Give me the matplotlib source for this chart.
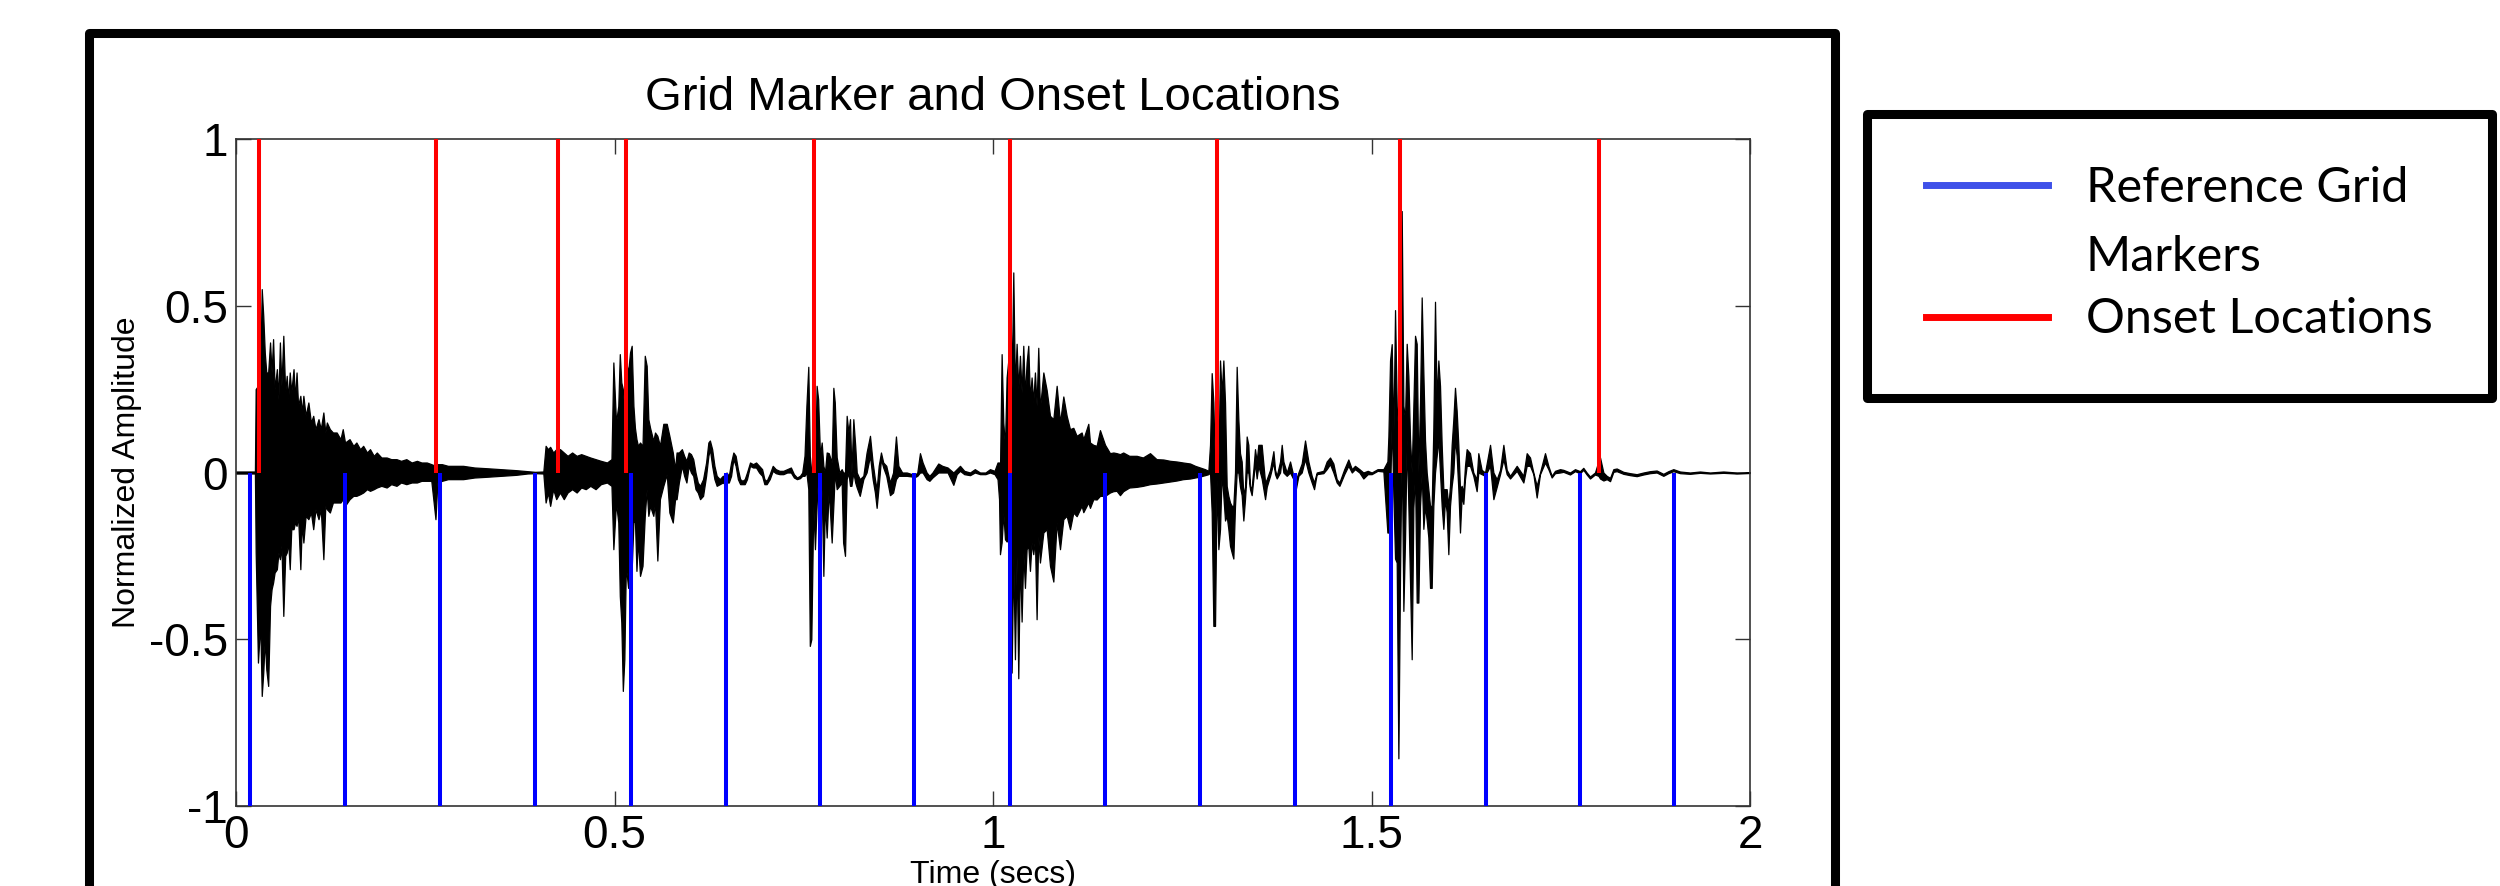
import matplotlib
matplotlib.use('Agg')
import matplotlib.pyplot as plt
from matplotlib.patches import Rectangle
from matplotlib.lines import Line2D

plt.rcParams['font.family'] = ['Liberation Sans', 'DejaVu Sans']

# reference grid markers and detected onsets (secs)
grid_markers = [0.019, 0.144, 0.270, 0.395, 0.522, 0.647, 0.772, 0.896,
                1.023, 1.148, 1.274, 1.399, 1.526, 1.651, 1.775, 1.900]
onset_times = [0.031, 0.264, 0.426, 0.515, 0.764, 1.023, 1.296, 1.538, 1.800]

wave_t = [
    0.000, 0.025, 0.026, 0.029, 0.032, 0.034, 0.036, 0.038, 0.040, 0.0425, 0.045, 0.047, 0.049, 0.051, 0.054, 0.056,
    0.058, 0.060, 0.0625, 0.065, 0.067, 0.069, 0.071, 0.073, 0.076, 0.078, 0.080, 0.082, 0.085, 0.087, 0.089, 0.092,
    0.0956, 0.099, 0.102, 0.105, 0.109, 0.112, 0.1154, 0.118, 0.120, 0.124, 0.128, 0.133, 0.138, 0.141, 0.144, 0.150,
    0.155, 0.159, 0.164, 0.168, 0.173, 0.177, 0.182, 0.186, 0.192, 0.199, 0.205, 0.212, 0.218, 0.225, 0.232, 0.239,
    0.245, 0.252, 0.258, 0.2635, 0.266, 0.272, 0.280, 0.290,
    0.300, 0.315, 0.330, 0.350, 0.370, 0.385, 0.395, 0.406, 0.409, 0.412, 0.415, 0.419, 0.423, 0.428, 0.433, 0.438,
    0.444, 0.450, 0.456, 0.462, 0.468, 0.475, 0.482, 0.490, 0.496, 0.4985, 0.502, 0.505, 0.507, 0.509, 0.511, 0.513,
    0.515, 0.518, 0.5205, 0.5227, 0.525, 0.527, 0.529, 0.531, 0.5337, 0.537, 0.540, 0.5425, 0.5447, 0.547, 0.5513,
    0.5535, 0.5566, 0.560, 0.5645, 0.569, 0.5725,
    0.577, 0.580, 0.582, 0.585, 0.589, 0.592, 0.595, 0.598, 0.601, 0.604, 0.607, 0.610, 0.613, 0.617, 0.621, 0.624,
    0.626, 0.629, 0.632, 0.635, 0.639, 0.643, 0.646, 0.648, 0.651, 0.654, 0.657, 0.660, 0.663, 0.666, 0.669, 0.672,
    0.675, 0.679, 0.683, 0.687, 0.691, 0.695, 0.698, 0.701, 0.705, 0.709, 0.713, 0.718, 0.723, 0.728, 0.733, 0.737,
    0.741, 0.745, 0.748, 0.751, 0.7535, 0.756, 0.758, 0.760, 0.7626, 0.7648, 0.767, 0.769, 0.7715, 0.7737, 0.7759,
    0.778, 0.7803, 0.783, 0.7869, 0.7891, 0.791, 0.7935, 0.797, 0.8001, 0.802, 0.8045, 0.8067, 0.809, 0.8111, 0.813,
    0.8155, 0.818, 0.820, 0.824, 0.8287, 0.833, 0.8375, 0.841, 0.844, 0.8463, 0.849, 0.852, 0.855, 0.859,
    0.8639, 0.868, 0.8718, 0.875, 0.880, 0.886, 0.893, 0.8956, 0.900, 0.9035, 0.907, 0.9123, 0.916, 0.920, 0.9277,
    0.933, 0.940, 0.9476, 0.952, 0.9564, 0.962, 0.9696, 0.976, 0.9828, 0.990, 0.996, 1.002, 1.006, 1.008, 1.0092,
    1.0114, 1.0136, 1.0158, 1.018, 1.0202, 1.0224, 1.0246, 1.0268, 1.029, 1.0312, 1.0334, 1.0356, 1.0378, 1.040,
    1.0422, 1.0444, 1.0466, 1.0488, 1.051, 1.0532, 1.0554, 1.0576, 1.0598, 1.062, 1.0665, 1.0709, 1.0753, 1.0797,
    1.0841, 1.0885, 1.0929, 1.0973, 1.1017, 1.1061, 1.1105, 1.1171, 1.1193, 1.1259, 1.1281, 1.1325, 1.1369, 1.1413,
    1.148, 1.1545, 1.159, 1.1633, 1.1677,
    1.172, 1.180, 1.1898, 1.198, 1.2074, 1.216, 1.225, 1.234, 1.2427, 1.251, 1.2603, 1.267, 1.2735, 1.280, 1.2845,
    1.2867, 1.2889, 1.2911, 1.2933, 1.2955, 1.2977, 1.2999, 1.3021, 1.3043, 1.3065, 1.3087, 1.3109, 1.3131, 1.3153,
    1.3175, 1.3197, 1.3219, 1.3241, 1.3263, 1.3285, 1.3307, 1.3329, 1.3351, 1.3373, 1.3395, 1.3417, 1.3439, 1.3461,
    1.3483, 1.3505, 1.3549, 1.3594, 1.3616, 1.366, 1.3704, 1.3726, 1.3748, 1.3792, 1.3814, 1.3836, 1.388, 1.3924,
    1.3968, 1.399, 1.4034, 1.4078, 1.4122, 1.4166, 1.4210, 1.4241, 1.4276, 1.4364, 1.4408, 1.4452, 1.4496, 1.454,
    1.4576,
    1.464, 1.4694, 1.474, 1.4782, 1.484, 1.4892, 1.495, 1.5002, 1.508, 1.5157, 1.521, 1.5223, 1.5245, 1.5267, 1.5289,
    1.5311, 1.5333, 1.5355, 1.5377, 1.5399, 1.5421, 1.5443, 1.5465, 1.5487, 1.5509, 1.5531, 1.5553, 1.5575, 1.5597,
    1.5619, 1.5641, 1.5663, 1.5685, 1.5707, 1.5729, 1.5751, 1.5773, 1.5795, 1.5817, 1.5839, 1.5861, 1.5883, 1.5905,
    1.5927, 1.5949, 1.5971, 1.5993, 1.6015, 1.6037, 1.6059, 1.6081, 1.6103, 1.6125, 1.6147, 1.6169, 1.6191, 1.6213,
    1.6235, 1.6257, 1.6301, 1.6345, 1.6389, 1.6411, 1.6455, 1.65, 1.6566, 1.661, 1.6654, 1.6698, 1.6742, 1.6786,
    1.683, 1.6918, 1.7006, 1.705, 1.7094, 1.7138, 1.7182, 1.7226, 1.7292, 1.7336, 1.738, 1.7424, 1.749,
    1.7534, 1.7622, 1.7688, 1.7754, 1.7798, 1.7842, 1.7886, 1.7952, 1.7997, 1.8019, 1.8063, 1.8107, 1.8151, 1.8195,
    1.8239, 1.8327, 1.8415, 1.8503, 1.8591, 1.8679, 1.8767, 1.8855, 1.8921, 1.8987, 1.9075, 1.9207, 1.9339, 1.9472,
    1.9648, 1.9824, 2.0,
]
wave_hi = [
    0.003, 0.003, 0.25, 0.26, 0.30, 0.55, 0.47, 0.36, 0.30, 0.30, 0.39, 0.30, 0.40, 0.25, 0.31, 0.22,
    0.39, 0.26, 0.41, 0.24, 0.29, 0.22, 0.30, 0.24, 0.31, 0.22, 0.30, 0.20, 0.23, 0.18, 0.23, 0.17,
    0.21, 0.15, 0.17, 0.13, 0.16, 0.13, 0.18, 0.12, 0.15, 0.13, 0.12, 0.12, 0.10, 0.13, 0.09, 0.10,
    0.08, 0.09, 0.07, 0.08, 0.06, 0.07, 0.05, 0.06, 0.045, 0.045, 0.04, 0.04, 0.035, 0.04, 0.03, 0.035,
    0.03, 0.03, 0.025, 0.02, 0.025, 0.025, 0.02, 0.02,
    0.02, 0.015, 0.013, 0.01, 0.007, 0.004, 0.002, 0.003, 0.08, 0.07, 0.077, 0.06, 0.07, 0.07, 0.06, 0.05,
    0.06, 0.05, 0.055, 0.05, 0.045, 0.04, 0.035, 0.03, 0.04, 0.33, 0.15, 0.20, 0.355, 0.27, 0.25, 0.18,
    0.336, 0.30, 0.36, 0.38, 0.20, 0.134, 0.10, 0.08, 0.09, 0.08, 0.35, 0.32, 0.16, 0.134, 0.095,
    0.12, 0.11, 0.08, 0.146, 0.146, 0.11,
    0.06, 0.01, 0.06, 0.06, 0.07, 0.05, 0.035, 0.06, 0.055, 0.04, 0.0, -0.03, -0.04, -0.02, 0.03, 0.09,
    0.096, 0.07, 0.02, -0.01, -0.02, -0.01, -0.01, 0.0, -0.01, 0.03, 0.06, 0.05, 0.01, -0.02, -0.025, -0.02,
    0.0, 0.03, 0.025, 0.03, 0.02, 0.01, -0.02, -0.025, -0.005, 0.02, 0.01, 0.005, 0.005, 0.01, 0.015, -0.005,
    -0.015, -0.01, 0.0, 0.05, 0.20, 0.317, 0.05, 0.0, 0.02, 0.0, 0.26, 0.22, 0.05, 0.09, 0.02,
    0.0, 0.06, 0.058, 0.03, 0.254, 0.21, 0.046, 0.0, 0.01, 0.0, 0.0, 0.17, 0.12, 0.16, 0.0,
    0.16, 0.08, 0.0, -0.02, -0.01, 0.06, 0.11, 0.03, -0.02, -0.05, 0.02, 0.06, 0.03, 0.02,
    -0.03, 0.0, 0.108, 0.02, 0.0, 0.0, -0.005, -0.01, 0.0, 0.058, 0.03, 0.0, -0.01, 0.0, 0.027,
    0.02, 0.015, 0.0, 0.01, 0.02, 0.005, 0.0, 0.01, 0.0, 0.0, 0.01, 0.005, 0.03, 0.03, 0.0,
    0.355, 0.15, 0.08, 0.285, 0.336, 0.633, 0.25, 0.60, 0.25, 0.386, 0.25, 0.35, 0.24, 0.38,
    0.23, 0.33, 0.38, 0.22, 0.285, 0.21, 0.30, 0.2, 0.374, 0.19, 0.30, 0.247, 0.17, 0.16,
    0.26, 0.15, 0.228, 0.17, 0.13, 0.134, 0.11, 0.12, 0.10, 0.146, 0.09, 0.083, 0.08, 0.127,
    0.083, 0.058, 0.06, 0.058, 0.055,
    0.06, 0.05, 0.05, 0.045, 0.058, 0.04, 0.039, 0.035, 0.033, 0.03, 0.027, 0.02, 0.015, 0.01, 0.005,
    0.083, 0.298, 0.21, 0.0, 0.40, 0.0, 0.336, 0.235, 0.336, 0.21, -0.04, -0.07, -0.09, -0.1,
    -0.1, 0.0, 0.317, 0.16, 0.058, 0.033, -0.068, -0.043, 0.108, 0.083, -0.043, -0.043, 0.008, 0.07,
    0.033, 0.083, 0.083, -0.03, -0.02, 0.008, 0.064, 0.008, -0.01, 0.033, 0.083, 0.033, 0.0, 0.033,
    -0.01, -0.03, 0.0, 0.027, 0.096, 0.033, -0.01, -0.03, 0.0, 0.005, 0.033, 0.045, 0.027, -0.02,
    -0.03,
    0.01, 0.039, 0.01, 0.02, 0.01, 0.0, 0.005, 0.0, 0.01, 0.01, 0.033, 0.108, 0.336, 0.385, 0.1,
    0.487, 0.2, 0.1, 0.3, 0.784, 0.2, 0.16, 0.386, 0.29, 0.1, 0.0, 0.2, 0.41, 0.386,
    0.0, 0.21, 0.525, 0.3, 0.096, 0.0, -0.05, -0.1, -0.1, 0.134, 0.512, 0.21, 0.336, 0.26,
    0.083, -0.05, -0.05, -0.05, -0.1, -0.04, 0.083, 0.159, 0.254, 0.185, 0.083, -0.05, -0.04, -0.06,
    0.02, 0.07, 0.058, 0.0, -0.02, 0.058, 0.008, 0.0, 0.083, 0.0, -0.02, 0.008, 0.083, 0.008,
    -0.01, 0.02, -0.01, 0.058, 0.045, 0.0, -0.04, 0.0, 0.058, 0.02, -0.01, 0.005, 0.01,
    0.008, 0.0, 0.01, 0.004, 0.014, 0.0, -0.012, 0.0, 0.033, 0.045, 0.0, -0.01, -0.016, 0.01,
    0.012, 0.002, -0.002, -0.005, 0.0, 0.004, 0.006, -0.004, 0.004, 0.01, 0.003, 0.0, 0.003, 0.0,
    0.003, 0.0, 0.001,
]
wave_lo = [
    -0.003, -0.003, -0.24, -0.57, -0.45, -0.67, -0.60, -0.50, -0.59, -0.64, -0.40, -0.35, -0.33, -0.30, -0.29, -0.24,
    -0.26, -0.22, -0.43, -0.25, -0.24, -0.21, -0.29, -0.17, -0.17, -0.15, -0.16, -0.13, -0.29, -0.15, -0.21, -0.13,
    -0.14, -0.12, -0.17, -0.11, -0.14, -0.11, -0.26, -0.10, -0.11, -0.12, -0.09, -0.09, -0.09, -0.08, -0.10, -0.08,
    -0.07, -0.07, -0.065, -0.06, -0.05, -0.055, -0.05, -0.045, -0.04, -0.045, -0.035, -0.04, -0.03, -0.035, -0.03, -0.03,
    -0.025, -0.025, -0.025, -0.14, -0.03, -0.025, -0.02, -0.02,
    -0.02, -0.015, -0.013, -0.01, -0.007, -0.003, -0.002, -0.003, -0.09, -0.06, -0.10, -0.05, -0.08, -0.06, -0.08, -0.06,
    -0.05, -0.06, -0.045, -0.05, -0.04, -0.05, -0.035, -0.03, -0.04, -0.23, -0.09, -0.15, -0.37, -0.45, -0.655, -0.56,
    -0.28, -0.346, -0.245, -0.29, -0.15, -0.144, -0.295, -0.20, -0.31, -0.28, -0.13, -0.05, -0.13, -0.10, -0.13,
    -0.09, -0.264, -0.08, -0.04, -0.005, -0.12,
    -0.15, -0.08, -0.08, -0.03, 0.02, -0.01, -0.03, 0.02, 0.0, -0.01, -0.05, -0.06, -0.08, -0.07, -0.01, 0.05,
    0.07, 0.02, -0.02, -0.04, -0.035, -0.03, -0.035, -0.03, -0.03, -0.01, 0.04, 0.02, -0.02, -0.035, -0.035, -0.035,
    -0.02, 0.02, 0.015, 0.015, 0.0, -0.01, -0.035, -0.035, -0.02, 0.005, -0.002, -0.005, -0.005, 0.0, 0.0, -0.015,
    -0.02, -0.017, -0.01, -0.01, 0.0, -0.05, -0.52, -0.50, -0.1, -0.23, -0.10, 0.0, -0.14, -0.05, -0.31,
    -0.09, -0.195, -0.05, -0.21, -0.1, 0.0, -0.05, -0.04, -0.03, -0.21, -0.25, -0.02, 0.0, -0.04, -0.04,
    0.0, -0.03, -0.045, -0.07, -0.02, 0.0, 0.05, -0.02, -0.06, -0.106, -0.04, 0.04, 0.015, -0.01,
    -0.068, -0.06, -0.02, -0.01, -0.01, -0.01, -0.012, -0.015, -0.01, 0.0, 0.0, -0.02, -0.025, -0.015, 0.0,
    0.0, 0.0, -0.037, -0.005, 0.005, -0.005, -0.008, 0.0, -0.005, -0.005, 0.0, -0.005, -0.02, -0.08, -0.245,
    -0.21, -0.12, -0.2, -0.207, -0.2, -0.25, -0.60, -0.25, -0.56, -0.25, -0.617, -0.25, -0.447, -0.24,
    -0.346, -0.23, -0.22, -0.295, -0.21, -0.245, -0.2, -0.44, -0.19, -0.27, -0.18, -0.17, -0.28, -0.327,
    -0.15, -0.23, -0.14, -0.13, -0.17, -0.12, -0.131, -0.10, -0.119, -0.09, -0.106, -0.08, -0.081, -0.07,
    -0.07, -0.06, -0.056, -0.055, -0.068,
    -0.056, -0.045, -0.043, -0.04, -0.035, -0.033, -0.03, -0.027, -0.024, -0.02, -0.018, -0.015, -0.012, -0.008, -0.005,
    0.0, -0.12, -0.46, -0.46, -0.02, -0.23, -0.17, 0.0, -0.07, -0.144, -0.13, -0.17, -0.22, -0.24,
    -0.258, -0.1, 0.0, 0.0, -0.043, -0.068, -0.144, -0.08, 0.0, 0.0, -0.05, -0.068, -0.02, 0.03,
    -0.018, 0.02, -0.018, -0.08, -0.043, -0.01, 0.03, -0.005, -0.018, 0.0, 0.04, 0.0, -0.01, 0.0,
    -0.02, -0.062, -0.01, 0.0, 0.04, 0.0, -0.03, -0.05, -0.005, -0.002, 0.01, 0.025, 0.0, -0.03,
    -0.04,
    -0.005, 0.02, 0.0, 0.01, 0.0, -0.018, -0.005, -0.005, 0.005, 0.003, -0.18, -0.18, -0.07, 0.16, -0.07,
    -0.258, -0.27, -0.857, -0.3, 0.1, -0.415, -0.2, 0.1, -0.1, -0.33, -0.56, -0.106, 0.0, -0.39,
    -0.39, -0.1, 0.0, -0.169, -0.1, -0.144, -0.195, -0.346, -0.346, -0.1, 0.0, 0.05, 0.1, 0.0,
    -0.1, -0.169, -0.08, -0.119, -0.245, -0.1, -0.04, 0.0, 0.1, 0.05, -0.05, -0.18, -0.07, -0.094,
    -0.02, 0.02, 0.02, -0.01, -0.056, 0.0, -0.005, -0.01, 0.02, -0.08, -0.043, -0.005, 0.04, -0.005,
    -0.018, 0.005, -0.03, 0.02, 0.02, -0.005, -0.075, -0.005, 0.03, 0.01, -0.015, -0.002, 0.0,
    0.002, -0.006, 0.004, -0.002, 0.008, -0.006, -0.018, -0.006, -0.01, -0.018, -0.024, -0.02, -0.026, 0.002,
    0.004, -0.004, -0.008, -0.011, -0.006, -0.002, 0.0, -0.01, -0.002, 0.004, -0.002, -0.004, -0.001, -0.003,
    -0.001, -0.003, -0.001,
]

xticks = [0, 0.5, 1, 1.5, 2]
yticks = [-1, -0.5, 0, 0.5, 1]

fig = plt.figure(figsize=(25, 8.86), dpi=100)
ax = fig.add_axes([0.0944, 0.0903, 0.6056, 0.7528])

ax.fill_between(wave_t, wave_lo, wave_hi, color='black', lw=0.9, zorder=2)
ax.vlines(onset_times, 0, 1, colors='#ff0000', lw=2.9, zorder=3)
ax.vlines(grid_markers, -1, 0, colors='#0000ff', lw=2.9, zorder=3)

ax.set_xlim(0, 2)
ax.set_ylim(-1, 1)
ax.set_xticks(xticks)
ax.set_xticklabels(['0', '0.5', '1', '1.5', '2'])
ax.set_yticks(yticks)
ax.set_yticklabels(['-1', '-0.5', '0', '0.5', '1'])
ax.tick_params(direction='in', length=11, width=1, top=True, right=True,
               labelsize=33, pad=6, color='#333333')
for s in ax.spines.values():
    s.set_color('#333333')
    s.set_linewidth(1.2)

ax.set_title('Grid Marker and Onset Locations', fontsize=34, pad=21)
ax.set_xlabel('Time (secs)', fontsize=23)
ax.xaxis.set_label_coords(0.5, -0.081)
ax.set_ylabel('Normalized Amplitude', fontsize=23, va='center')
ax.yaxis.set_label_coords(-0.072, 0.5)

# slide-style frames around the plot and the legend
fig.add_artist(Rectangle((0.0356, -0.1), 0.6984, 1.0622, transform=fig.transFigure,
                         fill=False, ec='black', lw=6.5, joinstyle='round'))
fig.add_artist(Rectangle((0.7468, 0.5508), 0.2500, 0.3205, transform=fig.transFigure,
                         fill=False, ec='black', lw=6.5, joinstyle='round'))

fig.add_artist(Line2D([0.7704, 0.8192], [0.7912, 0.7912], transform=fig.transFigure,
                      color='#3f51e9', lw=5))
fig.add_artist(Line2D([0.7704, 0.8192], [0.6422, 0.6422], transform=fig.transFigure,
                      color='#ff0000', lw=5))
fig.text(0.8344, 0.7720, 'Reference Grid', fontsize=35, family='Lato', va='baseline')
fig.text(0.8344, 0.6940, 'Markers', fontsize=35, family='Lato', va='baseline')
fig.text(0.8344, 0.6240, 'Onset Locations', fontsize=35, family='Lato', va='baseline')

fig.savefig('out.png', dpi=100)
